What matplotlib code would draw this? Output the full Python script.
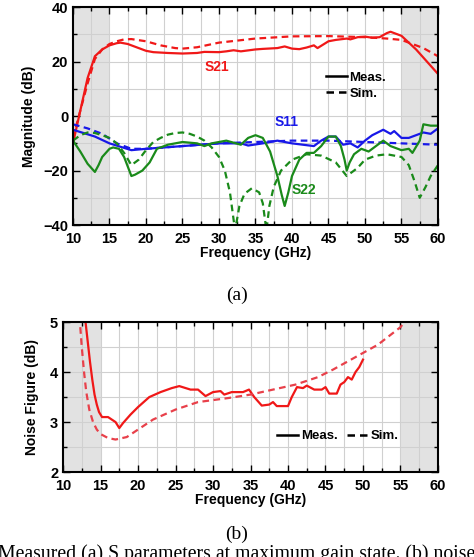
import numpy as np
import matplotlib
matplotlib.use("Agg")
import matplotlib.pyplot as plt
from matplotlib.ticker import MultipleLocator
from matplotlib.lines import Line2D

plt.rcParams['font.family'] = ['Liberation Sans', 'DejaVu Sans']

# (a) S parameters
s21_meas_f = [10, 11, 12, 13, 14, 15, 16, 16.5, 17.5, 19, 20, 21, 23, 25, 27, 28, 30, 31, 32, 33, 35,
              36, 38, 39, 40, 41, 42, 43, 43.5, 45, 46, 47.5, 48, 49, 50, 51, 52, 53, 53.5, 54, 55,
              56, 57, 58, 59, 60]
s21_meas = [-10, 2, 14, 22, 24.5, 26, 26.8, 27, 26.5, 25, 24, 23.5, 23.2, 23, 23.2, 23.6, 23.5, 23.8, 24.2,
            23.8, 24.5, 24.7, 25, 25.6, 24.8, 24.6, 25.2, 26, 25, 27.5, 28, 28.5, 28.2, 29, 29.2, 28.8,
            29, 30.5, 31, 30.5, 29.5, 27, 24.5, 21.5, 18.5, 15.5]
s21_sim_f = [10, 11, 12, 13, 14, 15, 16, 17, 18, 20, 22, 24, 25, 27, 30, 35, 40, 45, 50, 53, 55, 57, 58, 60]
s21_sim = [-8, 2, 12, 21, 24.5, 26.5, 27.5, 28.2, 28.3, 27.5, 26, 25, 24.8, 25.3, 27, 28.5, 29.3, 29.4,
           29, 28.5, 28, 26, 25, 22]

s11_meas_f = [10, 13, 15, 18, 20, 25, 30, 33, 34, 36, 38, 40, 43, 44, 45, 46, 47, 48, 49, 50, 51, 52.5,
              53.5, 54, 55, 56, 58, 59, 60]
s11_meas = [-5, -7.5, -10, -12.5, -12, -11, -10, -10, -10.8, -10, -9, -10, -11, -9, -7.5, -7.5, -10.5,
            -10, -11.5, -9, -7, -5, -6.5, -5.5, -8, -8, -6, -6.5, -4.5]
s11_sim_f = [10, 12, 14, 16, 18, 20, 25, 30, 35, 40, 45, 50, 55, 60]
s11_sim = [-3, -4.5, -6.5, -10, -12, -12, -11, -10, -9.5, -9, -9, -9.5, -10, -10.5]

s22_meas_f = [10, 11, 12, 13, 13.5, 14, 15, 15.5, 16.3, 17, 17.5, 18, 18.5, 19.5, 20.5, 21.5, 23, 25, 27,
              28, 29, 31, 33, 34, 35, 36, 37, 38, 38.6, 39, 39.5, 40, 41, 42, 43, 44, 45, 46, 46.7,
              47.2, 47.5, 47.9, 48.5, 49.5, 50.5, 51.5, 52.5, 53.5, 55, 56, 56.5, 57.5, 58, 59, 60]
s22_meas = [-9, -13, -17.5, -20.5, -18, -15, -12, -11.5, -12, -15, -18.5, -22, -21.5, -20, -17, -12,
            -10.5, -9.5, -10, -11, -10, -9, -10.5, -8, -7, -8, -13, -22, -29, -33, -28, -22, -16,
            -13.5, -13.5, -11, -7.5, -7.5, -11, -16, -20, -17, -14, -12, -13, -11, -9, -11, -12.5,
            -12, -13.5, -9, -3, -3.5, -3.5]
s22_sim_f = [10, 11, 12, 13, 14, 15, 16, 17, 18, 19, 20, 21, 22, 23, 24, 25, 26, 27, 28, 29, 30, 30.8,
             31.5, 32.2, 32.8, 33.5, 34.5, 35.5, 36, 36.5, 36.9, 37.5, 38.5, 40, 42, 44, 46, 47.5, 49,
             50, 51.5, 53, 55, 56, 56.8, 57.5, 58.3, 59, 60]
s22_sim = [-9, -7, -6, -6.2, -7, -8, -10, -13.5, -18, -16, -12.5, -9.5, -8, -6.8, -6.2, -6, -6.5, -7.5,
           -9, -11.5, -15, -20, -28, -42, -33, -28.5, -26.5, -28, -32, -42, -33, -26, -20, -16, -14,
           -14.5, -17, -22, -19, -16, -14.5, -14, -15, -18, -24, -30, -26, -22, -18]

# (b) noise figure
nf_meas_f = [13.0, 13.3, 13.6, 13.9, 14.2, 14.5, 14.8, 15.2, 16, 17, 17.5, 18, 19, 20, 21.5, 23, 24.5,
             25.5, 27, 28, 29, 30, 31, 31.5, 32.5, 34, 34.8, 35.5, 36.5, 37.5, 38, 38.5, 40, 40.5, 41.2,
             42, 42.5, 43.5, 44.5, 45, 45.5, 46.5, 47, 47.5, 48, 48.5, 49, 49.5, 50]
nf_meas = [5.0, 4.6, 4.2, 3.85, 3.55, 3.35, 3.2, 3.1, 3.1, 3.0, 2.88, 2.98, 3.15, 3.3, 3.5, 3.6, 3.68,
           3.72, 3.65, 3.65, 3.52, 3.6, 3.62, 3.55, 3.6, 3.6, 3.65, 3.5, 3.33, 3.35, 3.4, 3.32, 3.32,
           3.5, 3.7, 3.68, 3.73, 3.65, 3.65, 3.7, 3.57, 3.57, 3.75, 3.8, 3.9, 3.85, 4.0, 4.1, 4.25]
nf_sim_f = [12.3, 12.5, 12.8, 13.1, 13.5, 14, 14.5, 15, 16, 17, 18.5, 20, 22, 25, 28, 32, 35, 38, 41, 44,
            46, 49, 52, 55, 55.5]
nf_sim = [4.9, 4.5, 4.0, 3.6, 3.25, 3.0, 2.85, 2.76, 2.68, 2.65, 2.7, 2.85, 3.05, 3.25, 3.4, 3.48, 3.55,
          3.65, 3.75, 3.9, 4.05, 4.3, 4.55, 4.9, 5.0]

red = '#f01818'
blue = '#1818e8'
green = '#1a8a1a'
shade = '#e2e2e2'
gridc = '#d0d0d0'
dash = (0, (3, 2))
lab_font = {'fontsize': 10, 'fontweight': 'bold'}


def style(ax):
    ax.set_xlim(10, 60)
    ax.xaxis.set_major_locator(MultipleLocator(5))
    ax.xaxis.set_minor_locator(MultipleLocator(2.5))
    ax.grid(which='both', color=gridc, linewidth=0.8)
    ax.set_axisbelow(True)
    ax.tick_params(which='both', direction='in', top=True, right=True, labelsize=10.5, width=1)
    ax.tick_params(which='major', length=5)
    ax.tick_params(which='minor', length=3)
    ax.tick_params(axis='x', pad=5)
    for lab in ax.get_xticklabels() + ax.get_yticklabels():
        lab.set_fontweight('bold')
    for sp in ax.spines.values():
        sp.set_linewidth(1.5)
    ax.axvspan(10, 15, color=shade, zorder=0.5, lw=0)
    ax.axvspan(55, 60, color=shade, zorder=0.5, lw=0)
    ax.set_xlabel('Frequency (GHz)', labelpad=0, **lab_font)


fig = plt.figure(figsize=(4.74, 5.57), dpi=100)

ax1 = fig.add_axes([0.154, 0.596, 0.770, 0.391])
ax1.plot(s21_meas_f, s21_meas, color=red, lw=1.6)
ax1.plot(s21_sim_f, s21_sim, color=red, lw=1.6, ls=dash)
ax1.plot(s11_meas_f, s11_meas, color=blue, lw=1.6)
ax1.plot(s11_sim_f, s11_sim, color=blue, lw=1.6, ls=dash)
ax1.plot(s22_meas_f, s22_meas, color=green, lw=1.6)
ax1.plot(s22_sim_f, s22_sim, color=green, lw=1.6, ls=dash)
ax1.set_ylim(-40, 40)
ax1.yaxis.set_major_locator(MultipleLocator(20))
ax1.yaxis.set_minor_locator(MultipleLocator(10))
style(ax1)
ax1.set_ylabel('Magnitude (dB)', labelpad=5, **lab_font)
ax1.text(29.7, 18, 'S21', color=red, fontsize=10, fontweight='bold', ha='center', va='center')
ax1.text(39.3, -2.2, 'S11', color=blue, fontsize=10, fontweight='bold', ha='center', va='center')
ax1.text(41.6, -27.2, 'S22', color=green, fontsize=10, fontweight='bold', ha='center', va='center')
h = [Line2D([], [], color='k', lw=1.8), Line2D([], [], color='k', lw=1.8, ls=dash)]
ax1.legend(h, ['Meas.', 'Sim.'], loc='upper left', bbox_to_anchor=(0.66, 0.76), frameon=False,
           prop={'weight': 'bold', 'size': 9.5}, handlelength=1.6, handletextpad=0.2,
           labelspacing=0.3)

ax2 = fig.add_axes([0.133, 0.1526, 0.791, 0.269])
ax2.plot(nf_meas_f, nf_meas, color=red, lw=1.6)
ax2.plot(nf_sim_f, nf_sim, color='#e8404a', lw=1.6, ls=dash)
ax2.set_ylim(2, 5)
ax2.yaxis.set_major_locator(MultipleLocator(1))
ax2.yaxis.set_minor_locator(MultipleLocator(0.5))
style(ax2)
ax2.set_ylabel('Noise Figure (dB)', labelpad=8, **lab_font)
h2 = [Line2D([], [], color='k', lw=1.8), Line2D([], [], color='k', lw=1.8, ls=dash)]
ax2.legend(h2, ['Meas.', 'Sim.'], loc='center left', bbox_to_anchor=(0.54, 0.24), frameon=False, ncol=2,
           prop={'weight': 'bold', 'size': 9.5}, handlelength=1.6, handletextpad=0.2,
           columnspacing=0.7)

fig.text(0.5, 1 - 295 / 557, '(a)', family='Liberation Serif', fontsize=14, ha='center', va='center')
fig.text(0.5, 1 - 534 / 557, '(b)', family='Liberation Serif', fontsize=14, ha='center', va='center')
fig.text(0.5, 1 - 559 / 557, 'Measured (a) S parameters at maximum gain state. (b) noise',
         family='Liberation Serif', fontsize=14.2, ha='center', va='baseline')

fig.savefig('out.png', dpi=100)
